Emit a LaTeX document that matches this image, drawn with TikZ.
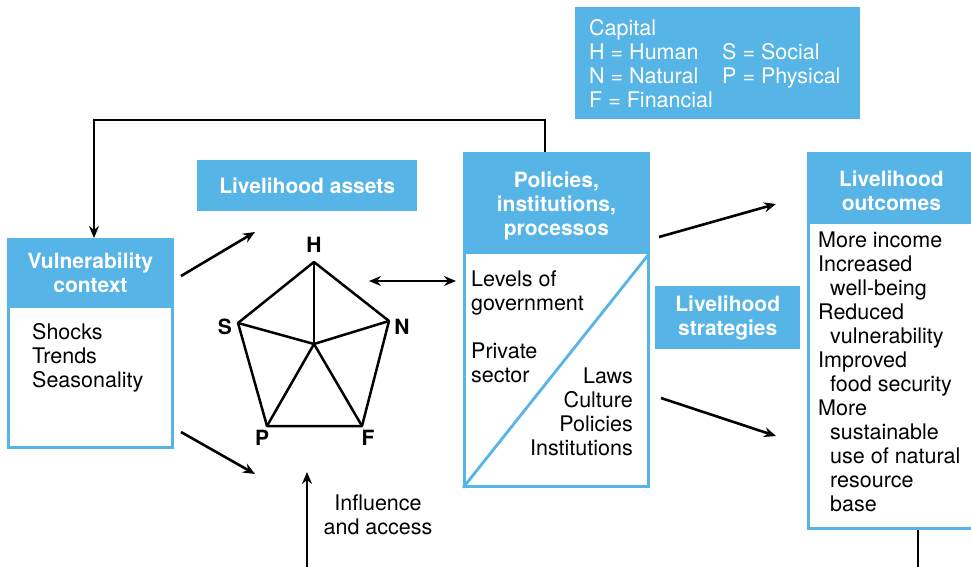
\documentclass[tikz,border=0pt]{standalone}
\usepackage{fontspec}
\setmainfont{TeX Gyre Heros}
\usetikzlibrary{arrows.meta}
\definecolor{slblue}{RGB}{86,180,230}

\begin{document}
\begin{tikzpicture}[x=1pt, y=-1pt,
    txt/.style={font=\fontsize{21.5}{24}\selectfont, inner sep=0pt, align=left},
    head/.style={fill=slblue, text=white, font=\bfseries\fontsize{21}{24}\selectfont, align=center, inner sep=0pt},
    frame/.style={draw=slblue, line width=2.8pt, fill=white, inner sep=0pt},
    lab/.style={font=\bfseries\fontsize{21}{24}\selectfont, inner sep=0pt},
    edge/.style={line width=2.5pt, line join=round},
    arr/.style={line width=2.6pt, -{Stealth[length=12pt,width=10pt,inset=4pt]}},
    dbl/.style={line width=2.6pt, {Stealth[length=12pt,width=10pt,inset=4pt]}-{Stealth[length=12pt,width=10pt,inset=4pt]}}]

    \useasboundingbox (0,0) rectangle (971,567);

    % capital key
    \node[head, anchor=north west, minimum width=285, minimum height=112] (cap) at (575,7) {};
    \node[txt, text=white, anchor=north west] (capleft) at (589,19) {Capital\\H = Human\\N = Natural\\F = Financial};
    \node[txt, text=white, anchor=north west] (capright) at (722,43) {S = Social\\P = Physical};

    % vulnerability context
    \node[frame, anchor=north west, minimum width=164, minimum height=208] (vul) at (7,238) {};
    \node[head, anchor=north, minimum width=164, minimum height=70] (vulhead) at (vul.north) {Vulnerability\\context};
    \node[txt, anchor=north west] (vultxt) at (32,323) {Shocks\\Trends\\Seasonality};

    % assets pentagon
    \node[head, anchor=north west, minimum width=220, minimum height=51] (assets) at (197,160) {Livelihood assets};
    \coordinate (C) at (314,344);
    \coordinate (H) at (314,262);
    \coordinate (S) at (238,323);
    \coordinate (N) at (389,321);
    \coordinate (P) at (267,426);
    \coordinate (F) at (362,426);
    \draw[edge] (H) -- (N) -- (F) -- (P) -- (S) -- cycle;
    \foreach \v in {H,N,F,P,S}
        \draw[edge] (C) -- (\v);
    \node[lab] (Hl) at (314,245) {H};
    \node[lab] (Sl) at (225,327) {S};
    \node[lab] (Nl) at (402,327) {N};
    \node[lab] (Pl) at (262,438) {P};
    \node[lab] (Fl) at (368,438) {F};

    % policies
    \node[frame, anchor=north west, minimum width=184, minimum height=333] (pol) at (463,152) {};
    \node[head, anchor=north, minimum width=184, minimum height=102] (polhead) at (pol.north) {};
    \node[head, fill=none] (poltitle) at ([yshift=-3pt]polhead.center) {Policies,\\institutions,\\processos};
    \draw[draw=slblue, line width=2.8pt] (pol.south west) -- (polhead.south east);
    \node[txt, anchor=north west] (levels) at (471,271) {Levels of\\government};
    \node[txt, anchor=north west] (private) at (471,343) {Private\\sector};
    \node[txt, anchor=north east, align=right] (laws) at (633,368) {Laws\\Culture\\Policies\\Institutions};

    % strategies and outcomes
    \node[head, anchor=north west, minimum width=145, minimum height=63] (strat) at (655,286) {Livelihood\\strategies};
    \node[frame, anchor=north west, minimum width=166, minimum height=375] (out) at (807,152) {};
    \node[head, anchor=north, minimum width=166, minimum height=72] (outhead) at (out.north) {};
    \node[head, fill=none] (outtitle) at ([yshift=-3pt]outhead.center) {Livelihood\\outcomes};
    \node[txt, anchor=north west] (outtxt) at (818,232) {More income\\Increased\\\hspace*{12pt}well-being\\Reduced\\\hspace*{12pt}vulnerability\\Improved\\\hspace*{12pt}food security\\More\\\hspace*{12pt}sustainable\\\hspace*{12pt}use of natural\\\hspace*{12pt}resource\\\hspace*{12pt}base};

    % connectors
    \coordinate (loopR) at (545,120);
    \coordinate (loopL) at (94,120);
    \draw[arr] (loopR |- pol.north) -- (loopR) -- (loopL) -- (loopL |- vul.north);

    \coordinate (v1) at (181,276);
    \coordinate (a1) at (255,232);
    \coordinate (v2) at (181,432);
    \coordinate (a2) at (255,474);
    \draw[arr] (v1) -- (a1);
    \draw[arr] (v2) -- (a2);

    \coordinate (hn) at (369,281);
    \coordinate (pw) at (456,281);
    \draw[dbl] (hn) -- (pw);

    \coordinate (inbot) at (307,567);
    \coordinate (intop) at (307,472);
    \draw[arr] (inbot) -- (intop);
    \node[txt, align=center, anchor=north] (infl) at (378,495) {Influence\\and access};

    \coordinate (p1) at (659,237);
    \coordinate (o1) at (776,204);
    \coordinate (p2) at (661,398);
    \coordinate (o2) at (776,436);
    \draw[arr] (p1) -- (o1);
    \draw[arr] (p2) -- (o2);

    \coordinate (obot) at (918,567);
    \draw[line width=2.6pt] (obot |- out.south) -- (obot);
\end{tikzpicture}
\end{document}
